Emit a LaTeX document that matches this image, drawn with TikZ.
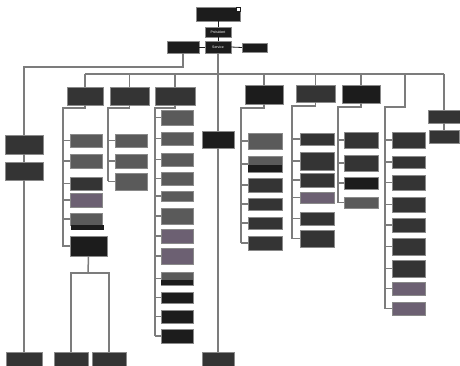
\documentclass[tikz,border=0pt]{standalone}
\usepackage{fontspec}
\setmainfont{Liberation Sans}
\definecolor{blk}{HTML}{1C1C1C}
\definecolor{dk}{HTML}{343434}
\definecolor{gr}{HTML}{5A5A5A}
\definecolor{pu}{HTML}{6C6072}
\definecolor{ln}{HTML}{7C7C7C}
\definecolor{edge}{HTML}{8A8A8A}
\newcommand\bx[7]{\node[box,fill=#6,minimum width={(#4-#2)*1pt},minimum height={(#5-#3)*1pt}] (#1) at ({(#2+#4)/2},{(#3+#5)/2}) {#7};}
\begin{document}
\begin{tikzpicture}[x=1pt,y=-1pt,
  box/.style={draw=edge,line width=0.5pt,inner sep=0pt,outer sep=0pt,text=white,font=\fontsize{3.5}{4}\selectfont},
  conn/.style={draw=ln,line width=1.5pt},
  thin/.style={draw=blk,line width=0.8pt}]
\fill[white] (0,0) rectangle (460,366);
\useasboundingbox (0,0) rectangle (460,366);

% top
\bx{T}{196}{7}{240}{21}{blk}{}
\fill[white,draw=blk,line width=0.4pt] (236,7) rectangle (240,11);
\bx{P}{205}{27}{231}{37}{blk}{Président}
\bx{S}{205}{41}{231}{53}{blk}{Service}
\bx{A}{167}{41}{199}{53}{blk}{}
\bx{R}{242}{43}{267}{52}{blk}{}
\draw[thin] (T.south) -- (P.north);
\draw[thin] (P.south) -- (S.north);
\draw[thin] (A.east) -- (S.west);
\draw[thin] (S.east) -- (R.west);

% left branch
\bx{L1}{5}{135}{43}{154}{dk}{}
\bx{L2}{5}{162}{43}{180}{dk}{}
\bx{LB}{6}{352}{42}{366}{dk}{}
\coordinate (la) at (183,67);
\coordinate (lb) at (24,67);
\draw[conn] (A.south) -- (la) -- (lb) -- (L1.north);
\draw[conn] (L1.south) -- (L2.north);
\draw[conn] (L2.south) -- (LB.north);

% middle
\bx{M}{202}{131}{234}{148}{blk}{}
\bx{MB}{202}{352}{234}{366}{dk}{}
\draw[conn] (S.south) -- (M.north);
\draw[conn] (M.south) -- (MB.north);

% level 2 bar
\bx{B1}{67}{87}{103}{105}{dk}{}
\bx{B2}{110}{87}{149}{105}{dk}{}
\bx{B3}{155}{87}{195}{105}{dk}{}
\bx{B4}{245}{85}{283}{104}{blk}{}
\bx{B5}{296}{85}{335}{102}{dk}{}
\bx{B6}{342}{85}{380}{103}{blk}{}
\bx{B8}{428}{110}{460}{123}{dk}{}
\bx{B8c}{429}{130}{459}{143}{dk}{}
\coordinate (barL) at (85,74);
\coordinate (barR) at (444,74);
\draw[conn] (barL) -- (barR);
\foreach \b in {B1,B2,B3,B4,B5,B6} \draw[conn] (\b.north) -- (\b.north |- barL);
\draw[conn] (barR) -- (B8.north);
\draw[conn] (B8.south) -- (B8c.north);

% column 1
\coordinate (k1) at (63,108);
\foreach \n/\a/\b/\c in {a/134/147/gr,b/154/168/gr,c/177/190/dk,d/193/207/pu,e/213/225/gr}{
  \bx{c1\n}{70}{\a}{102}{\b}{\c}{}
  \draw[conn] (c1\n.west) -- (c1\n.west -| k1);
}
\fill[blk] (71,225) rectangle (104,230);
\bx{K}{70}{236}{107}{256}{blk}{}
\draw[conn] (B1.south) -- (B1.south |- k1) -- (k1) -- (k1 |- K.west) -- (K.west);
\bx{KB1}{54}{352}{88}{366}{dk}{}
\bx{KB2}{92}{352}{126}{366}{dk}{}
\coordinate (kk) at (88,273);
\draw[conn] (K.south) -- (kk);
\draw[conn] (KB1.north) |- (kk) -| (KB2.north);

% column 2
\coordinate (k2) at (108,108);
\foreach \n/\a/\b/\c in {a/134/147/gr,b/154/168/gr,c/173/190/gr}{
  \bx{c2\n}{115}{\a}{147}{\b}{\c}{}
  \draw[conn] (c2\n.west) -- (c2\n.west -| k2);
}
\draw[conn] (B2.south) -- (B2.south |- k2) -- (k2) -- (k2 |- c2c.west);

% column 3
\coordinate (k3) at (155,108);
\foreach \n/\a/\b/\c in {a/110/125/gr,b/132/145/gr,c/153/166/gr,d/172/185/gr,e/191/201/gr,f/208/224/gr,g/229/243/pu,h/248/264/pu,i/272/285/gr,j/292/303/blk,k/310/323/blk,l/329/343/blk}{
  \bx{c3\n}{161}{\a}{193}{\b}{\c}{}
  \draw[conn] (c3\n.west) -- (c3\n.west -| k3);
}
\fill[blk] (161,280) rectangle (193,285);
\draw[conn] (B3.south) -- (B3.south |- k3) -- (k3) -- (k3 |- c3l.west);

% column 4
\coordinate (k4) at (241,108);
\foreach \n/\a/\b/\c in {a/133/149/gr,b/156/172/gr,c/178/192/dk,d/198/210/dk,e/217/229/dk,f/236/250/dk}{
  \bx{c4\n}{248}{\a}{282}{\b}{\c}{}
  \draw[conn] (c4\n.west) -- (c4\n.west -| k4);
}
\fill[blk] (248,165) rectangle (282,172);
\draw[conn] (B4.south) -- (B4.south |- k4) -- (k4) -- (k4 |- c4f.west);

% column 5
\coordinate (k5) at (292,106);
\foreach \n/\a/\b/\c in {a/133/145/dk,b/152/170/dk,c/173/187/dk,d/192/203/pu,e/212/225/dk,f/230/247/dk}{
  \bx{c5\n}{300}{\a}{334}{\b}{\c}{}
  \draw[conn] (c5\n.west) -- (c5\n.west -| k5);
}
\draw[conn] (B5.south) -- (B5.south |- k5) -- (k5) -- (k5 |- c5f.west);

% column 6
\coordinate (k6) at (338,107);
\foreach \n/\a/\b/\c in {a/132/148/dk,b/155/171/dk,c/177/189/blk,d/197/208/gr}{
  \bx{c6\n}{344}{\a}{378}{\b}{\c}{}
  \draw[conn] (c6\n.west) -- (c6\n.west -| k6);
}
\draw[conn] (B6.south) -- (B6.south |- k6) -- (k6) -- (k6 |- c6d.west);

% column 7
\coordinate (k7a) at (405,74);
\coordinate (k7b) at (405,107);
\coordinate (k7) at (385,107);
\foreach \n/\a/\b/\c in {a/132/148/dk,b/156/168/dk,c/175/190/dk,d/197/212/dk,e/218/232/dk,f/238/255/dk,g/260/277/dk,h/282/295/pu,i/302/315/pu}{
  \bx{c7\n}{392}{\a}{425}{\b}{\c}{}
  \draw[conn] (c7\n.west) -- (c7\n.west -| k7);
}
\draw[conn] (k7a) -- (k7b) -- (k7) -- (k7 |- c7i.west);
\end{tikzpicture}
\end{document}
